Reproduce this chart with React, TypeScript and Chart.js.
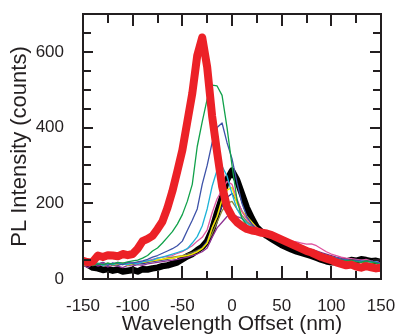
import React, { useEffect, useRef } from "react";
import { Chart, registerables } from "chart.js";

Chart.register(...registerables);

const wavelengthOffset = [
  -150, -145, -140, -135, -130, -125, -120, -115, -110, -105,
  -100, -95, -90, -85, -80, -75, -70, -65, -60, -55,
  -50, -45, -40, -35, -30, -25, -20, -15, -10, -5,
  0, 5, 10, 15, 20, 25, 30, 35, 40, 45,
  50, 55, 60, 65, 70, 75, 80, 85, 90, 95,
  100, 105, 110, 115, 120, 125, 130, 135, 140, 145,
  150,
];

const redSeries = [
  48, 44, 46, 62, 58, 63, 62, 60, 66, 63,
  66, 80, 100, 106, 114, 132, 152, 188, 232, 285,
  340, 415, 490, 590, 638, 560, 430, 335, 245, 190,
  165, 150, 140, 132, 128, 126, 122, 120, 116, 110,
  104, 98, 92, 86, 80, 74, 70, 64, 58, 54,
  50, 44, 40, 36, 38, 33, 30, 34, 31, 28,
  30,
];
const greenSeries = [
  38, 42, 35, 40, 38, 42, 40, 44, 42, 45,
  48, 50, 55, 62, 74, 82, 95, 110, 125, 145,
  170, 205, 250, 350, 415, 475, 512, 510, 485, 400,
  300, 210, 160, 142, 132, 125, 118, 112, 108, 104,
  100, 96, 92, 86, 80, 78, 72, 68, 62, 60,
  56, 52, 50, 48, 50, 46, 44, 48, 45, 42,
  38,
];
const blueSeries = [
  40, 36, 42, 38, 40, 36, 42, 40, 38, 44,
  42, 45, 48, 52, 58, 62, 68, 74, 80, 88,
  100, 128, 155, 185, 250, 300, 360, 400, 412, 360,
  318, 255, 200, 165, 145, 130, 122, 115, 110, 106,
  100, 96, 92, 88, 82, 78, 74, 70, 66, 62,
  58, 55, 52, 50, 48, 50, 47, 45, 48, 44,
  42,
];
const cyanSeries = [
  36, 40, 38, 42, 36, 40, 38, 42, 40, 38,
  42, 40, 45, 48, 50, 55, 58, 62, 66, 70,
  74, 80, 95, 112, 140, 185, 245, 288, 298, 272,
  225, 185, 162, 148, 138, 128, 120, 116, 110, 105,
  100, 97, 92, 87, 82, 78, 73, 70, 65, 62,
  58, 55, 52, 50, 48, 46, 48, 46, 44, 46,
  40,
];
const magentaSeries = [
  42, 38, 44, 40, 42, 38, 40, 44, 42, 40,
  44, 42, 46, 48, 52, 55, 58, 60, 62, 68,
  72, 80, 88, 100, 110, 130, 175, 212, 235, 258,
  250, 212, 178, 158, 145, 135, 128, 122, 118, 112,
  108, 105, 100, 98, 95, 92, 93, 88, 80, 72,
  66, 62, 58, 55, 54, 52, 50, 52, 48, 46,
  42,
];
const yellowSeries = [
  35, 40, 37, 42, 38, 36, 40, 38, 42, 37,
  40, 42, 44, 46, 48, 50, 52, 54, 55, 58,
  60, 62, 66, 72, 80, 95, 135, 165, 210, 235,
  242, 200, 178, 165, 150, 135, 126, 118, 112, 106,
  102, 98, 92, 88, 84, 80, 76, 72, 66, 62,
  58, 54, 50, 48, 46, 48, 45, 46, 42, 44,
  38,
];
const navySeries = [
  38, 42, 36, 40, 44, 38, 42, 36, 40, 42,
  38, 42, 40, 44, 46, 48, 50, 52, 55, 58,
  60, 64, 68, 74, 82, 100, 135, 165, 192, 215,
  226, 205, 180, 160, 145, 132, 124, 118, 112, 106,
  100, 96, 92, 88, 84, 80, 76, 72, 68, 64,
  60, 56, 52, 50, 48, 50, 46, 48, 44, 46,
  40,
];
const oliveSeries = [
  34, 38, 36, 40, 38, 42, 36, 40, 38, 42,
  40, 44, 42, 46, 48, 50, 52, 56, 58, 60,
  62, 66, 70, 75, 82, 96, 120, 150, 180, 200,
  205, 185, 168, 152, 140, 130, 122, 116, 110, 104,
  100, 95, 90, 86, 82, 78, 74, 70, 66, 62,
  58, 55, 52, 50, 48, 46, 48, 45, 44, 46,
  40,
];
const purpleSeries = [
  36, 30, 40, 34, 38, 32, 36, 34, 30, 36,
  34, 38, 36, 40, 42, 44, 46, 48, 50, 52,
  55, 58, 62, 66, 72, 82, 110, 135, 150, 165,
  172, 165, 160, 150, 140, 130, 124, 118, 114, 108,
  104, 98, 94, 90, 86, 82, 78, 74, 70, 66,
  62, 58, 55, 52, 50, 48, 50, 47, 45, 48,
  42,
];
const blackSeries = [
  45, 38, 30, 28, 24, 26, 22, 25, 20, 22,
  24, 20, 26, 25, 28, 30, 34, 36, 40, 44,
  52, 60, 66, 76, 85, 100, 130, 175, 215, 262,
  286, 262, 225, 188, 160, 136, 124, 114, 106, 98,
  90, 84, 78, 73, 69, 65, 61, 56, 51, 47,
  44, 45, 48, 46, 50, 48, 52, 50, 47, 48,
  45,
];

const xTickValues = [-150, -125, -100, -75, -50, -25, 0, 25, 50, 75, 100, 125, 150];
const xLabelValues = [-150, -100, -50, 0, 50, 100, 150];
const yTickValues = [0, 50, 100, 150, 200, 250, 300, 350, 400, 450, 500, 550, 600, 650, 700];
const yLabelValues = [0, 200, 400, 600];

const xTitle = "Wavelength Offset (nm)";
const yTitle = "PL Intensity (counts)";

const FONT = "'Liberation Sans', Arial, Helvetica, sans-serif";
const INK = "#231f20";

const seriesList = [
  { name: "red", values: redSeries, color: "#ec2127", width: 8 },
  { name: "green", values: greenSeries, color: "#10a14a", width: 1.3 },
  { name: "blue", values: blueSeries, color: "#3d52a8", width: 1.3 },
  { name: "cyan", values: cyanSeries, color: "#1eb2d8", width: 1.3 },
  { name: "magenta", values: magentaSeries, color: "#df55a0", width: 1.3 },
  { name: "yellow", values: yellowSeries, color: "#f2e400", width: 1.5 },
  { name: "navy", values: navySeries, color: "#2b2f8f", width: 1.3 },
  { name: "olive", values: oliveSeries, color: "#8a8a3c", width: 1.3 },
  { name: "purple", values: purpleSeries, color: "#8e3192", width: 1.3 },
  { name: "black", values: blackSeries, color: "#000000", width: 6.5 },
];

const framePlugin = {
  id: "frameTicks",
  afterDatasetsDraw(chart: any) {
    const { ctx, chartArea } = chart;
    const { left, right, top, bottom } = chartArea;
    const xs = chart.scales.x;
    const ys = chart.scales.y;
    ctx.save();
    ctx.strokeStyle = INK;
    ctx.lineWidth = 2;
    ctx.strokeRect(left, top, right - left, bottom - top);
    ctx.beginPath();
    for (const v of xTickValues) {
      const px = Math.round(xs.getPixelForValue(v));
      const major = xLabelValues.includes(v);
      ctx.moveTo(px, bottom);
      ctx.lineTo(px, bottom - (major ? 13 : 8));
      ctx.moveTo(px, top);
      ctx.lineTo(px, top + (major ? 12 : 9));
    }
    for (const v of yTickValues) {
      const py = Math.round(ys.getPixelForValue(v));
      const major = yLabelValues.includes(v);
      ctx.moveTo(left, py);
      ctx.lineTo(left + (major ? 10 : 8), py);
      ctx.moveTo(right, py);
      ctx.lineTo(right - (major ? 11 : 8), py);
    }
    ctx.stroke();
    ctx.restore();
  },
};

export default function App() {
  const canvasRef = useRef<HTMLCanvasElement | null>(null);

  useEffect(() => {
    const canvas = canvasRef.current;
    if (!canvas) return;
    const chart = new Chart(canvas, {
      type: "line",
      data: {
        datasets: seriesList.map((s) => ({
          label: s.name,
          data: wavelengthOffset.map((x, i) => ({ x, y: s.values[i] })),
          borderColor: s.color,
          backgroundColor: s.color,
          borderWidth: s.width,
          pointRadius: 0,
          tension: 0,
          borderJoinStyle: "round" as const,
          borderCapStyle: "round" as const,
          fill: false,
        })),
      },
      options: {
        animation: false,
        responsive: false,
        maintainAspectRatio: false,
        events: [],
        layout: { padding: { top: 14, right: 14, left: 0, bottom: 0 } },
        plugins: {
          legend: { display: false },
          tooltip: { enabled: false },
        },
        scales: {
          x: {
            type: "linear",
            min: -150,
            max: 150,
            afterFit: (s: any) => {
              s.height = 57;
              s.paddingLeft = 0;
              s.paddingRight = 0;
              s.paddingTop = 0;
              s.paddingBottom = 0;
            },
            grid: { display: false, drawTicks: false },
            border: { display: false },
            ticks: {
              stepSize: 50,
              autoSkip: false,
              maxRotation: 0,
              color: INK,
              padding: 17,
              font: { size: 17, family: FONT },
            },
            title: {
              display: true,
              text: xTitle,
              color: INK,
              font: { size: 21, family: FONT, lineHeight: 1 },
              padding: { top: 0, bottom: 1 },
            },
          },
          y: {
            type: "linear",
            min: 0,
            max: 700,
            afterFit: (s: any) => {
              s.width = 83;
              s.paddingLeft = 0;
              s.paddingRight = 0;
              s.paddingTop = 0;
              s.paddingBottom = 0;
            },
            grid: { display: false, drawTicks: false },
            border: { display: false },
            ticks: {
              stepSize: 200,
              autoSkip: false,
              color: INK,
              padding: 19,
              font: { size: 17, family: FONT },
              callback: (v: any) => {
                const n = Number(v);
                return yLabelValues.includes(n) ? String(n) : "";
              },
            },
            title: {
              display: true,
              text: yTitle,
              color: INK,
              font: { size: 22, family: FONT },
              padding: { top: 7, bottom: 0 },
            },
          },
        },
      },
      plugins: [framePlugin],
    });
    return () => chart.destroy();
  }, []);

  return (
    <div style={{ position: "fixed", left: 0, top: 0, width: 395, height: 336, background: "#ffffff" }}>
      <canvas ref={canvasRef} width={395} height={336} style={{ width: 395, height: 336, display: "block" }} />
    </div>
  );
}
